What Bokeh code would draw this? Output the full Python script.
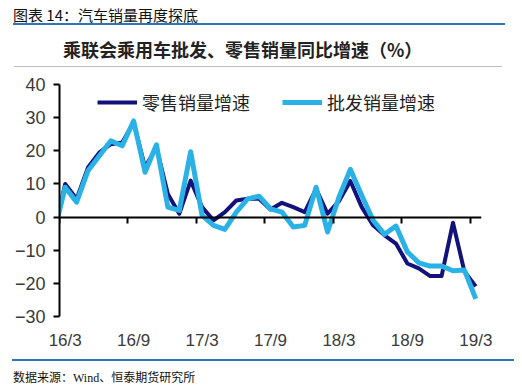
from bokeh.plotting import figure
from bokeh.models import (Range1d, FixedTicker, LinearAxis, Legend, LegendItem, Div)
from bokeh.layouts import column
from bokeh.embed import file_html
from bokeh.resources import INLINE

# ---- data (monthly, 16/2 .. 19/3; 16/2 lies just left of the visible axis) ----
months = ["16/2", "16/3", "16/4", "16/5", "16/6", "16/7", "16/8", "16/9", "16/10", "16/11", "16/12",
          "17/1", "17/2", "17/3", "17/4", "17/5", "17/6", "17/7", "17/8", "17/9", "17/10", "17/11", "17/12",
          "18/1", "18/2", "18/3", "18/4", "18/5", "18/6", "18/7", "18/8", "18/9", "18/10", "18/11", "18/12",
          "19/1", "19/2", "19/3"]
retail = [-5, 10, 5.5, 15, 19.5, 22, 22.5, 28.5, 15, 21, 7,
          1, 11, 3, -1, 1.5, 5, 5.5, 5.5, 2.3, 4.3, 3, 1.5,
          8.5, 1, 4.8, 10.9, 3, -2.5, -5.5, -8, -14, -15.5, -17.8, -17.8,
          -1.7, -16.4, -20.9]
wholesale = [-5, 9, 4.5, 14, 18.5, 23, 21.5, 29, 13.5, 21.8, 3,
             2, 19.7, 0.5, -2.5, -3.7, 1.5, 5.5, 6.3, 2.5, 1.5, -3, -2.5,
             9, -4.5, 6, 14.4, 6.5, -1, -5.2, -2.7, -10.5, -13.8, -14.8, -14.8,
             -16.2, -16, -24.7]
y_ticks = [-30, -20, -10, 0, 10, 20, 30, 40]
header_title = "图表 14：汽车销量再度探底"
chart_title = "乘联会乘用车批发、零售销量同比增速（%）"
source_note = "数据来源：Wind、恒泰期货研究所"
names = ["零售销量增速", "批发销量增速"]

first = months.index("16/3")
xs = [i - first for i in range(len(months))]
n_vis = len(months) - first
label_ticks = list(range(0, n_vis, 6))
label_map = {t: months[t + first] for t in label_ticks}
bound_ticks = [t - 0.5 for t in label_ticks]

DARK = "#12127A"
LIGHT = "#2AB2E6"

p = figure(width=522, height=280, x_range=Range1d(-0.5, n_vis - 0.5), y_range=Range1d(-30, 40),
           output_backend="svg", toolbar_location=None,
           min_border_left=59, min_border_right=41, min_border_top=12, min_border_bottom=36)
p.outline_line_color = None
p.grid.visible = False
p.background_fill_color = "white"
p.margin = 0

r_dark = p.line(xs, retail, line_color=DARK, line_width=4, line_join="round")
r_light = p.line(xs, wholesale, line_color=LIGHT, line_width=5, line_join="round")

# y axis
ya = p.yaxis[0]
ya.ticker = FixedTicker(ticks=y_ticks)
ya.axis_line_width = 2
ya.axis_line_color = "black"
ya.major_tick_line_width = 2
ya.major_tick_line_color = "black"
ya.major_tick_out = 6
ya.major_tick_in = 0
ya.minor_tick_line_color = None
ya.major_label_standoff = 8
ya.major_label_text_font = "Liberation Sans"
ya.major_label_text_font_size = "18px"
ya.major_label_text_color = "#3a3a3a"

# labelled category axis at the bottom
la = p.xaxis[0]
la.ticker = FixedTicker(ticks=label_ticks)
la.major_label_overrides = label_map
la.axis_line_color = None
la.major_tick_line_color = None
la.minor_tick_line_color = None
la.major_label_standoff = 8
la.major_label_text_font = "Liberation Sans"
la.major_label_text_font_size = "17px"
la.major_label_text_color = "#3a3a3a"

# zero-line axis with boundary ticks pointing down
za = LinearAxis(ticker=FixedTicker(ticks=bound_ticks), fixed_location=0,
                major_label_overrides={t: "" for t in bound_ticks})
za.axis_line_width = 2
za.axis_line_color = "black"
za.major_tick_line_width = 2
za.major_tick_line_color = "black"
za.major_tick_out = 0
za.major_tick_in = 6
za.minor_tick_line_color = None
za.major_label_text_font_size = "1px"
za.major_label_standoff = 0
p.add_layout(za, "above")

legend = Legend(items=[LegendItem(label=names[0], renderers=[r_dark]),
                       LegendItem(label=names[1], renderers=[r_light])],
                orientation="horizontal", location=(38, 201),
                glyph_width=40, glyph_height=20, label_standoff=5, spacing=32,
                padding=0, margin=0, border_line_color=None, background_fill_alpha=0,
                label_text_font="Noto Sans CJK SC", label_text_font_size="18px",
                label_text_color="#222222")
p.add_layout(legend)

header_html = (
    '<div style="position:relative;width:522px;height:72px;margin:0;padding:0;">'
    '<div style="position:absolute;left:13px;top:7px;width:492px;height:16px;box-sizing:content-box;'
    'border-bottom:2px solid #2E75B6;font-family:\'Noto Sans CJK SC\';'
    'font-size:15px;line-height:15px;color:#111;white-space:nowrap;">' + header_title + '</div>'
    '<div style="position:absolute;left:14px;top:40px;width:488px;height:27px;box-sizing:border-box;'
    'padding-left:49px;border-bottom:1px solid #BFBFBF;font-family:\'Noto Sans CJK SC\';font-weight:bold;'
    'font-size:18px;line-height:18px;color:#222;white-space:nowrap;">' + chart_title + '</div>'
    '</div>'
)
header = Div(text=header_html, width=522, height=72, margin=0)

footer_html = (
    '<div style="position:relative;width:522px;height:36px;margin:0;padding:0;">'
    '<div style="position:absolute;left:12px;top:7px;width:502px;box-sizing:border-box;'
    'border-top:2px solid #2E75B6;padding-top:11px;padding-left:1px;'
    'font-family:\'Liberation Serif\',\'Noto Sans CJK SC\';'
    'font-size:12px;line-height:12px;color:#111;white-space:nowrap;">' + source_note + '</div>'
    '</div>'
)
footer = Div(text=footer_html, width=522, height=36, margin=0)

layout = column(header, p, footer, spacing=0)

open("out.html", "w").write(file_html(layout, INLINE))
